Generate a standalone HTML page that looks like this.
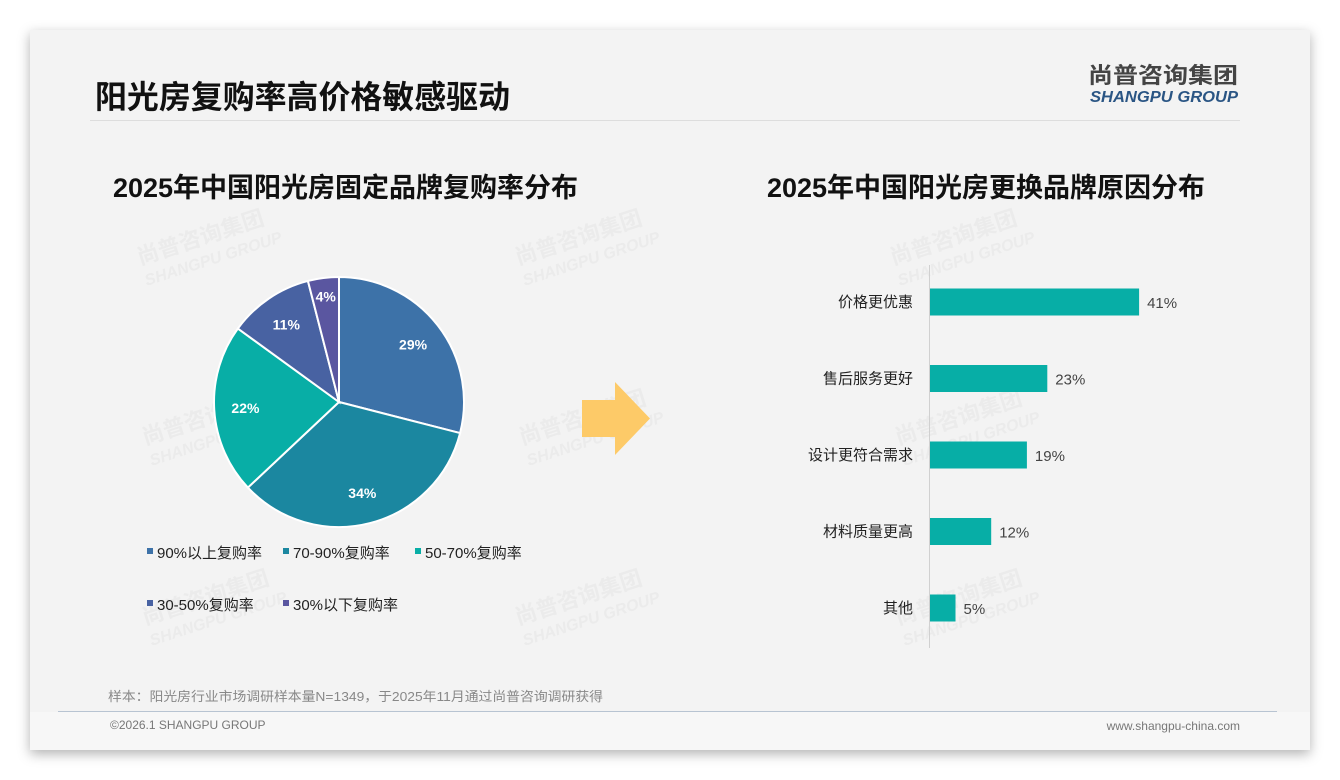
<!DOCTYPE html>
<html><head><meta charset="utf-8"><style>
html,body{margin:0;padding:0;width:1340px;height:780px;background:#fff;overflow:hidden;font-family:"Liberation Sans","Noto Sans CJK SC",sans-serif;}
svg{display:block}
</style></head><body>
<svg id="s" width="1340" height="780" viewBox="0 0 1340 780">
<defs><filter id="sh" x="-5%" y="-5%" width="110%" height="115%"><feDropShadow dx="0" dy="4" stdDeviation="6" flood-color="#000" flood-opacity="0.3"/></filter></defs>
<rect x="30" y="30" width="1280" height="720" fill="#f3f3f3" filter="url(#sh)"/>
<rect x="30" y="712" width="1280" height="38" fill="#f7f7f7"/>
<text x="95" y="108" font-size="32" font-weight="bold" fill="#111" textLength="415" lengthAdjust="spacingAndGlyphs">阳光房复购率高价格敏感驱动</text>
<line x1="90" y1="120.5" x2="1240" y2="120.5" stroke="#ddd"/>
<text x="1088" y="83" font-size="22" font-weight="bold" fill="#444" textLength="150" lengthAdjust="spacingAndGlyphs">尚普咨询集团</text>
<text x="1090" y="102" font-size="16" font-weight="bold" font-style="italic" fill="#2a5584" textLength="148" lengthAdjust="spacingAndGlyphs">SHANGPU GROUP</text>
<g fill="#ebebeb" font-weight="bold">
<g transform="translate(140,265) rotate(-18)"><text font-size="22">尚普咨询集团</text><text y="22" font-size="16" font-style="italic">SHANGPU GROUP</text></g>
<g transform="translate(518,265) rotate(-18)"><text font-size="22">尚普咨询集团</text><text y="22" font-size="16" font-style="italic">SHANGPU GROUP</text></g>
<g transform="translate(893,265) rotate(-18)"><text font-size="22">尚普咨询集团</text><text y="22" font-size="16" font-style="italic">SHANGPU GROUP</text></g>
<g transform="translate(145,445) rotate(-18)"><text font-size="22">尚普咨询集团</text><text y="22" font-size="16" font-style="italic">SHANGPU GROUP</text></g>
<g transform="translate(522,445) rotate(-18)"><text font-size="22">尚普咨询集团</text><text y="22" font-size="16" font-style="italic">SHANGPU GROUP</text></g>
<g transform="translate(898,445) rotate(-18)"><text font-size="22">尚普咨询集团</text><text y="22" font-size="16" font-style="italic">SHANGPU GROUP</text></g>
<g transform="translate(145,625) rotate(-18)"><text font-size="22">尚普咨询集团</text><text y="22" font-size="16" font-style="italic">SHANGPU GROUP</text></g>
<g transform="translate(518,625) rotate(-18)"><text font-size="22">尚普咨询集团</text><text y="22" font-size="16" font-style="italic">SHANGPU GROUP</text></g>
<g transform="translate(898,625) rotate(-18)"><text font-size="22">尚普咨询集团</text><text y="22" font-size="16" font-style="italic">SHANGPU GROUP</text></g>
</g>
<text x="113" y="197" font-size="27" font-weight="bold" fill="#111" textLength="465" lengthAdjust="spacingAndGlyphs">2025年中国阳光房固定品牌复购率分布</text>
<text x="767" y="197" font-size="27" font-weight="bold" fill="#111" textLength="438" lengthAdjust="spacingAndGlyphs">2025年中国阳光房更换品牌原因分布</text>
<g id="pie"></g>
<g id="legend"></g>
<polygon points="582,400 615,400 615,382 650,418.5 615,455 615,437 582,437" fill="#fdca68"/>
<line x1="929.5" y1="265" x2="929.5" y2="648" stroke="#d0d0d0"/>
<g id="bars"></g>
<text x="108" y="701" font-size="13" fill="#888" textLength="495" lengthAdjust="spacingAndGlyphs">样本：阳光房行业市场调研样本量N=1349，于2025年11月通过尚普咨询调研获得</text>
<line x1="58" y1="711.5" x2="1277" y2="711.5" stroke="#b8c4d2"/>
<text x="110" y="729" font-size="12" fill="#777">©2026.1 SHANGPU GROUP</text>
<text x="1240" y="730" font-size="12" fill="#777" text-anchor="end">www.shangpu-china.com</text>
</svg>
<script>
const pieLabels=["90%以上复购率","70-90%复购率","50-70%复购率","30-50%复购率","30%以下复购率"];
const pieValues=[29,34,22,11,4];
const pieColors=["#3d72a8","#1b87a0","#08aea6","#4862a2","#5a56a0"];
const barCats=["价格更优惠","售后服务更好","设计更符合需求","材料质量更高","其他"];
const barValues=[41,23,19,12,5];
const NS="http://www.w3.org/2000/svg";
function mk(t,a,p){const e=document.createElementNS(NS,t);for(const k in a)e.setAttribute(k,a[k]);p.appendChild(e);return e;}
const pie=document.getElementById('pie');
const cx=339,cy=402,r=125;
const total=pieValues.reduce((a,b)=>a+b,0);
let ang=-Math.PI/2;
pieValues.forEach((v,i)=>{
 const a0=ang,a1=ang+v/total*2*Math.PI;ang=a1;
 const large=(a1-a0)>Math.PI?1:0;
 const p=mk('path',{d:`M${cx},${cy} L${cx+r*Math.cos(a0)},${cy+r*Math.sin(a0)} A${r},${r} 0 ${large} 1 ${cx+r*Math.cos(a1)},${cy+r*Math.sin(a1)} Z`,fill:pieColors[i],stroke:'#fff','stroke-width':2},pie);
 
 
 const am=(a0+a1)/2,lr=i==4?0.85*r:0.75*r;
 const t=mk('text',{x:cx+lr*Math.cos(am),y:cy+lr*Math.sin(am)+5,'font-size':14,'font-weight':'bold',fill:'#fff','text-anchor':'middle'},pie);
 t.textContent=v+'%';
 
 
});
const lg=document.getElementById('legend');
const lpos=[[147,553],[283,553],[415,553],[147,605],[283,605]];
pieLabels.forEach((l,i)=>{
 const g=mk('g',{},lg);
 
 
 mk('rect',{x:lpos[i][0],y:lpos[i][1]-5,width:6,height:6,fill:pieColors[i]},g);
 const t=mk('text',{x:lpos[i][0]+10,y:lpos[i][1]+5,'font-size':15,fill:'#222'},g);t.textContent=l;
});
const bars=document.getElementById('bars');
const x0=929,ppu=5.1,y0=302,step=76.5,bh=27;
barCats.forEach((c,i)=>{
 const y=y0+i*step;
 const b=mk('rect',{x:x0+1,y:y-bh/2,width:barValues[i]*ppu,height:bh,fill:'#07aea6'},bars);
 
 
 const t=mk('text',{x:913,y:y+5,'font-size':15,fill:'#222','text-anchor':'end'},bars);t.textContent=c;
 
 
 const v=mk('text',{x:x0+barValues[i]*ppu+9,y:y+6,'font-size':15,fill:'#444'},bars);v.textContent=barValues[i]+'%';
 
 
});
</script>
</body></html>
